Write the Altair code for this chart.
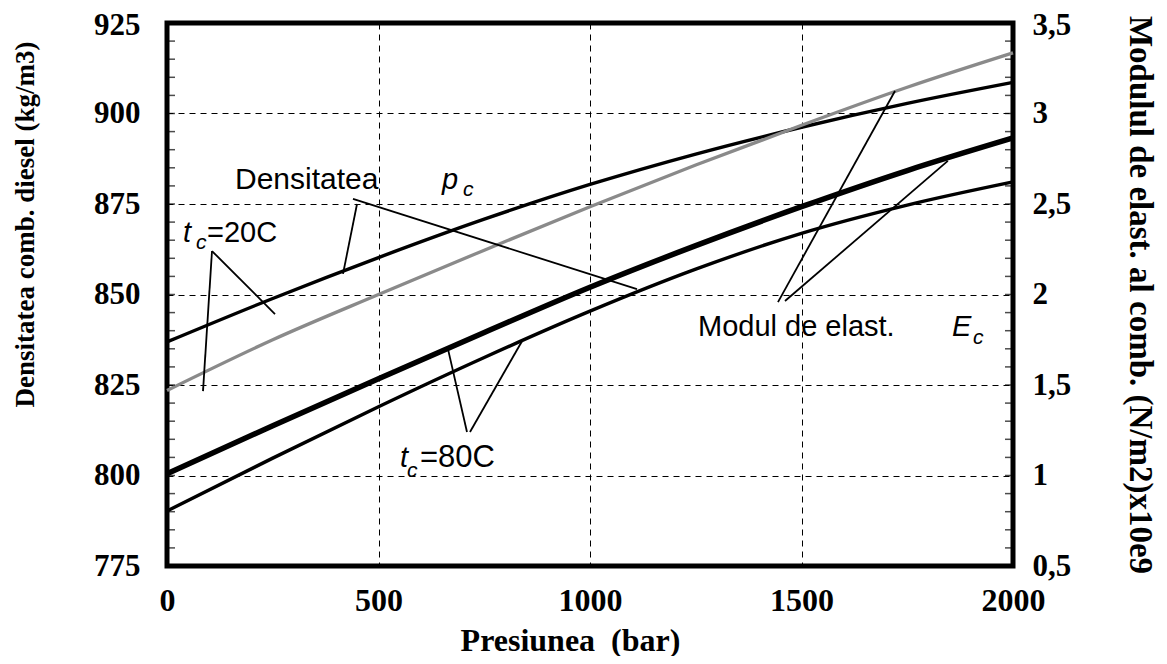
import altair as alt
import pandas as pd

# ---------------- data ----------------
pressure = [0, 250, 500, 750, 1000, 1250, 1500, 1750, 2000]
dens_20 = [836.9, 848.9, 860.2, 870.8, 880.4, 888.8, 896.2, 902.8, 908.6]
dens_80 = [790.2, 804.8, 819.0, 832.6, 845.4, 857.0, 866.9, 874.7, 881.1]
mod_20 = [1.47, 1.75, 2.00, 2.245, 2.485, 2.715, 2.935, 3.145, 3.335]
mod_80 = [1.01, 1.275, 1.535, 1.79, 2.04, 2.27, 2.485, 2.685, 2.865]

x_ticks = [0, 500, 1000, 1500, 2000]
dens_ticks = [775, 800, 825, 850, 875, 900, 925]
mod_ticks = [0.5, 1, 1.5, 2, 2.5, 3, 3.5]
minor_dens = [775 + 5 * i for i in range(31)]

label_text = ["Densitatea", "=20C", "Modul de elast.", "=80C"]
label_x = [160.8, 94.6, 1255.3, 598.1]
label_y = [879.1, 864.5, 838.5, 802.3]

symbol_text = ["p", "t", "E", "t"]
symbol_x = [650.1, 37.8, 1855.8, 550.8]
symbol_y = [879.1, 864.5, 838.5, 802.3]

sub_text = ["c", "c", "c", "c"]
sub_x = [699.8, 68.6, 1905.5, 567.4]
sub_y = [877.2, 862.6, 836.3, 799.6]

lead_x1 = [439.7, 449.2, 106.4, 106.4, 1444.4, 1461.0, 709.2, 716.3]
lead_y1 = [876.4, 875.0, 862.0, 862.0, 847.9, 848.2, 812.0, 812.0]
lead_x2 = [1111.1, 416.1, 85.1, 255.3, 1721.0, 1846.0, 664.3, 839.2]
lead_y2 = [851.5, 855.7, 823.3, 844.6, 906.2, 886.9, 834.9, 837.1]

# ---------------- tables ----------------
dens_df = pd.DataFrame({
    "p": pressure * 2,
    "d": dens_20 + dens_80,
    "s": ["20"] * len(pressure) + ["80"] * len(pressure),
})
mod20_df = pd.DataFrame({"p": pressure, "m": mod_20})
mod80_df = pd.DataFrame({"p": pressure, "m": mod_80})
minor_df = pd.DataFrame({"d": minor_dens})
lead_df = pd.DataFrame({"p": lead_x1, "d": lead_y1, "p2": lead_x2, "d2": lead_y2})
label_df = pd.DataFrame({"p": label_x, "d": label_y, "t": label_text})
symbol_df = pd.DataFrame({"p": symbol_x, "d": symbol_y, "t": symbol_text})
sub_df = pd.DataFrame({"p": sub_x, "d": sub_y, "t": sub_text})

# ---------------- styling ----------------
serif = "Liberation Serif"
sans = "Liberation Sans"
W, H = 846, 543

xscale = alt.Scale(domain=[0, 2000], nice=False, zero=False)
dscale = alt.Scale(domain=[775, 925], nice=False, zero=False)
mscale = alt.Scale(domain=[0.5, 3.5], nice=False, zero=False)

common_axis = dict(
    ticks=False, domain=False,
    labelFont=serif, labelFontWeight="bold", labelColor="black",
    titleFont=serif, titleFontWeight="bold", titleColor="black",
)

x_axis = alt.Axis(
    values=x_ticks, format="d", title="Presiunea\u00a0\u00a0(bar)", grid=True,
    gridDash=[6, 5], gridColor="black", gridWidth=1, gridOpacity=1,
    labelFlush=False, labelPadding=19, labelFontSize=32,
    titleFontSize=32, titleX=403, titleY=74,
    titleAlign="center", titleBaseline="middle",
    **common_axis,
)
left_axis = alt.Axis(
    values=dens_ticks, format="d", title="Densitatea comb. diesel (kg/m3)", grid=True,
    gridDash=[6, 5], gridColor="black", gridWidth=1, gridOpacity=1,
    labelPadding=27, labelFontSize=31,
    labelOffset={"condition": {"test": "datum.value == 925", "value": 2}, "value": 0},
    titleFontSize=27, titleAngle=270, titleX=-142, titleY=201,
    titleAlign="center", titleBaseline="middle",
    **common_axis,
)
right_axis = alt.Axis(
    orient="right", values=mod_ticks, grid=False, labelAlign="left",
    labelExpr="replace(datum.value + '', '.', ',')",
    labelOffset={"condition": {"test": "datum.value == 3.5", "value": 2}, "value": 0},
    title="Modulul de elast. al comb. (N/m2)x10e9",
    labelPadding=19, labelFontSize=31, titleFontSize=33, titlePadding=52,
    **common_axis,
)

x_main = alt.X("p:Q", scale=xscale, axis=x_axis)
y_plain = alt.Y("d:Q", scale=dscale, axis=None)

dens_lines = alt.Chart(dens_df).mark_line(
    color="black", strokeWidth=3.4, interpolate="monotone"
).encode(
    x=x_main,
    y=alt.Y("d:Q", scale=dscale, axis=left_axis),
    detail="s:N",
)

mod_grey = alt.Chart(mod20_df).mark_line(
    color="#8a8a8a", strokeWidth=3.3, interpolate="monotone"
).encode(
    x=x_main,
    y=alt.Y("m:Q", scale=mscale, axis=right_axis),
)
mod_black = alt.Chart(mod80_df).mark_line(
    color="black", strokeWidth=5.5, interpolate="monotone"
).encode(
    x=x_main,
    y=alt.Y("m:Q", scale=mscale, axis=None),
)

ticks_left = alt.Chart(minor_df).mark_tick(color="black", thickness=1.5, size=8).encode(
    y=y_plain, x=alt.value(4)
)
ticks_right = alt.Chart(minor_df).mark_tick(color="black", thickness=1.5, size=8).encode(
    y=y_plain, x=alt.value(W - 4)
)

leaders = alt.Chart(lead_df).mark_rule(color="black", strokeWidth=1.8).encode(
    x=x_main, x2="p2:Q", y=y_plain, y2="d2:Q"
)

label_sizes = [30, 29, 29, 31]
label_layers = []
for i, sz in enumerate(label_sizes):
    label_layers.append(
        alt.Chart(label_df.iloc[[i]]).mark_text(
            align="left", baseline="alphabetic", font=sans, fontSize=sz, color="black"
        ).encode(x=x_main, y=y_plain, text="t:N")
    )

symbols = alt.Chart(symbol_df).mark_text(
    align="left", baseline="alphabetic", font=sans, fontSize=29,
    fontStyle="italic", color="black"
).encode(x=x_main, y=y_plain, text="t:N")

subs = alt.Chart(sub_df).mark_text(
    align="left", baseline="alphabetic", font=sans, fontSize=21,
    fontStyle="italic", color="black"
).encode(x=x_main, y=y_plain, text="t:N")

chart = alt.layer(
    dens_lines, mod_grey, mod_black, ticks_left, ticks_right, leaders,
    *label_layers, symbols, subs
).resolve_scale(y="independent").properties(
    width=W, height=H,
    autosize=alt.AutoSizeParams(type="none"),
    padding={"left": 159, "top": 15, "right": 146, "bottom": 90},
    background="white",
).configure_view(stroke="black", strokeWidth=5)

chart.save("out.html", embed_options={"renderer": "svg", "actions": False})
